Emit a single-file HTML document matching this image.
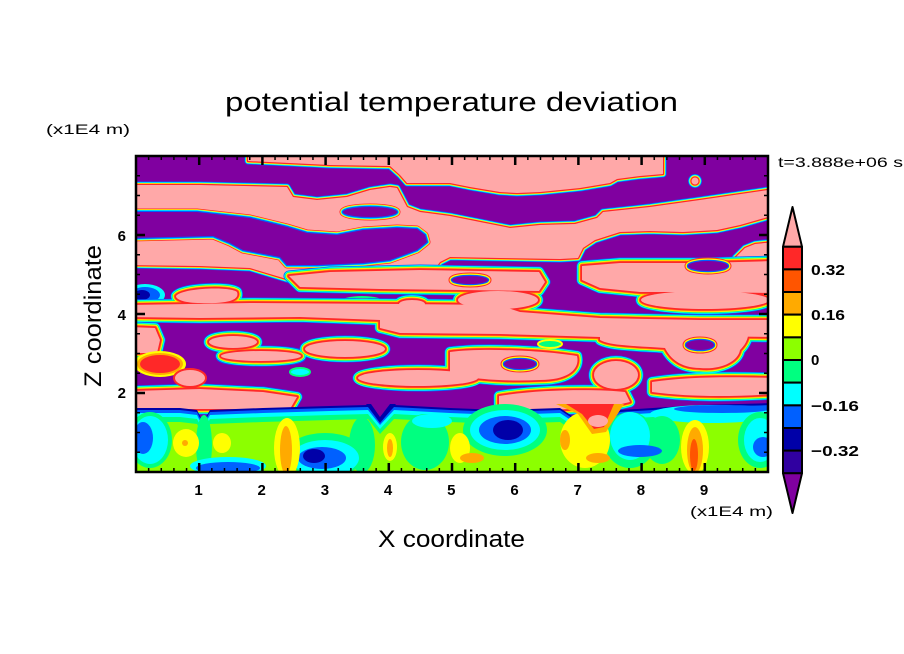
<!DOCTYPE html>
<html><head><meta charset="utf-8"><style>
html,body{margin:0;padding:0;background:#fff;}
body{width:904px;height:654px;overflow:hidden;}
svg{display:block;}
</style></head><body>
<svg xmlns="http://www.w3.org/2000/svg" width="904" height="654" viewBox="0 0 904 654" font-family="'Liberation Sans', sans-serif">
<defs>
<clipPath id="cp"><rect x="136" y="156" width="632" height="316"/></clipPath>
<g id="tp">
<path d="M248,150 L663,150 L663,174 L640,176 L617,179 L610,183 L580,188 L540,192 L517,193 L500,192 L470,187 L450,183 L407,183 L400,175 L390,166 L330,165 L248,161 Z"/>
<path d="M130,185 L200,185 L287,187 L293,197 L317,200 L347,197 L370,190 L390,187 L397,188 L407,207 L420,212 L450,216 L480,222 L510,228 L540,225 L575,224 L597,218 L603,212 L650,207 L700,200 L775,189 L775,215 L740,225 L717,230 L683,232 L650,231 L620,232 L595,240 L583,248 L578,258 L560,259 L500,258 L450,257 L440,262 L430,275 L400,283 L330,283 L290,280 L250,268 L200,266 L130,265 Z"/>
<path d="M735,258 L745,248 L755,244 L775,242 L775,262 L740,262 Z"/>
<circle cx="695" cy="181" r="3.5"/>
</g>
<g id="tpu">
<path d="M130,212 L197,212 L250,218 L287,227 L307,233 L337,235 L363,230 L397,228 L417,229 L425,235 L427,242 L417,250 L390,260 L363,263 L317,265 L287,265 L280,257 L243,250 L230,243 L213,236 L130,238 Z"/>
<ellipse cx="370" cy="212" rx="27" ry="5"/>
</g>
<g id="mp">
<path d="M289,276 L330,272 L420,270 L480,271 L539,272 L545,282 L539,291 L460,290 L380,289 L300,287 Z"/>
<path d="M582,266 L620,263 L700,263 L775,261 L775,293 L700,292 L640,292 L600,288 L582,280 Z"/>
<path d="M176,296 C182,288 230,286 237,292 C240,300 228,304 200,303 C186,303 176,300 176,296 Z"/>
<ellipse cx="412" cy="304" rx="13" ry="4"/>
<ellipse cx="498" cy="300" rx="40" ry="9"/>
<ellipse cx="705" cy="300" rx="64" ry="9"/>
<path d="M130,305 L250,303 L400,304 L499,305 L520,312 L600,318 L700,320 L775,320 L775,337 L700,336 L600,337 L500,334 L400,333 L380,328 L380,320 L300,317 L200,318 L130,317 Z"/>
<path d="M130,327 L155,328 L160,340 L157,353 L130,353 Z"/>
<ellipse cx="233" cy="342" rx="24" ry="6"/>
<ellipse cx="345" cy="349" rx="40" ry="8"/>
<ellipse cx="261" cy="356" rx="40" ry="5"/>
<path d="M450,352 C480,348 540,350 577,356 C580,368 570,380 540,380 C500,382 460,378 450,372 Z"/>
<ellipse cx="616" cy="375" rx="22" ry="14"/>
<path d="M600,328 C640,322 720,322 748,326 C750,338 745,345 740,350 C738,362 720,370 700,368 C680,368 670,358 665,348 C640,346 610,346 600,340 Z"/>
<path d="M652,382 C690,376 740,377 775,378 L775,394 C730,397 690,397 652,392 Z"/>
<ellipse cx="418" cy="378" rx="60" ry="8"/>
<path d="M130,391 L200,389 L263,392 L297,397 L290,409 L130,409 Z"/>
<path d="M499,396 C540,389 600,389 625,392 L630,402 C600,410 560,410 499,409 Z"/>
</g>
<g id="mpu">
<ellipse cx="708" cy="266" rx="20" ry="5"/>
<ellipse cx="520" cy="364" rx="16" ry="5"/>
<ellipse cx="470" cy="280" rx="18" ry="4"/>
<ellipse cx="700" cy="345" rx="14" ry="5"/>
</g>
<path id="bt" d="M130,408 L180,408 L197,410 L203,422 L210,410 L263,408 L330,406 L368,405 L380,420 L394,405 L450,408 L500,410 L560,408 L575,418 L590,428 L605,418 L620,410 L700,405 L775,403 L775,490 L130,490 Z"/>
<pattern id="px" patternUnits="userSpaceOnUse" x="135.25" y="0" width="12.64" height="20"><rect x="0" y="0" width="1.5" height="20" fill="#000"/></pattern>
<pattern id="py" patternUnits="userSpaceOnUse" x="0" y="155.25" width="20" height="19.75"><rect x="0" y="0" width="20" height="1.5" fill="#000"/></pattern>
</defs>

<g clip-path="url(#cp)">
<rect x="136" y="156" width="632" height="316" fill="#8000a0"/>
<use href="#tp" fill="none" stroke="#0060ff" stroke-width="7" stroke-linejoin="round"/>
<use href="#tp" fill="none" stroke="#00ffff" stroke-width="5.5" stroke-linejoin="round"/>
<use href="#tp" fill="none" stroke="#ffff00" stroke-width="4" stroke-linejoin="round"/>
<use href="#tp" fill="none" stroke="#ff2828" stroke-width="2.5" stroke-linejoin="round"/>
<use href="#tp" fill="#ffa8a8"/>
<use href="#tpu" fill="none" stroke="#ff2828" stroke-width="7" stroke-linejoin="round"/>
<use href="#tpu" fill="none" stroke="#ffff00" stroke-width="5.5" stroke-linejoin="round"/>
<use href="#tpu" fill="none" stroke="#00ffff" stroke-width="4" stroke-linejoin="round"/>
<use href="#tpu" fill="none" stroke="#0060ff" stroke-width="2.5" stroke-linejoin="round"/>
<use href="#tpu" fill="#8000a0"/>

<ellipse cx="145" cy="295" rx="20" ry="11" fill="#00ffff"/>
<ellipse cx="145" cy="295" rx="15" ry="8" fill="#0060ff"/>
<ellipse cx="142" cy="295" rx="8" ry="5" fill="#0000a8"/>
<ellipse cx="362" cy="302" rx="22" ry="6" fill="#00ff80"/>
<ellipse cx="362" cy="302" rx="15" ry="4" fill="#ffff00"/>

<use href="#mp" fill="none" stroke="#0060ff" stroke-width="11" stroke-linejoin="round"/>
<use href="#mp" fill="none" stroke="#00ffff" stroke-width="9.5" stroke-linejoin="round"/>
<use href="#mp" fill="none" stroke="#00ff80" stroke-width="8" stroke-linejoin="round"/>
<use href="#mp" fill="none" stroke="#ffff00" stroke-width="6.5" stroke-linejoin="round"/>
<use href="#mp" fill="none" stroke="#ffaa00" stroke-width="5" stroke-linejoin="round"/>
<use href="#mp" fill="none" stroke="#ff2828" stroke-width="3.5" stroke-linejoin="round"/>
<use href="#mp" fill="#ffa8a8"/>
<use href="#mpu" fill="none" stroke="#ff2828" stroke-width="7"/>
<use href="#mpu" fill="none" stroke="#ffff00" stroke-width="5"/>
<use href="#mpu" fill="none" stroke="#0060ff" stroke-width="2.5"/>
<use href="#mpu" fill="#8000a0"/>

<ellipse cx="160" cy="364" rx="26" ry="13" fill="#ffff00"/>
<ellipse cx="160" cy="364" rx="23" ry="11" fill="#ffaa00"/>
<ellipse cx="160" cy="364" rx="20" ry="9" fill="#ff2828"/>
<ellipse cx="190" cy="378" rx="16" ry="9" fill="#ffa8a8" stroke="#ff2828" stroke-width="2"/>
<ellipse cx="550" cy="344" rx="12" ry="4" fill="#00ff80" stroke="#ffff00" stroke-width="2"/>
<ellipse cx="300" cy="372" rx="10" ry="4" fill="#00ffff" stroke="#00ff80" stroke-width="2"/>

<use href="#bt" fill="#0000a8"/>
<use href="#bt" fill="#0060ff" transform="translate(0,2)"/>
<use href="#bt" fill="#00ffff" transform="translate(0,5)"/>
<use href="#bt" fill="#00ff80" transform="translate(0,9)"/>
<use href="#bt" fill="#8cff00" transform="translate(0,14)"/>
<ellipse cx="712" cy="414" rx="62" ry="9" fill="#00ffff"/>
<ellipse cx="722" cy="409" rx="48" ry="4" fill="#0060ff"/>

<g fill="#00ff80">
<ellipse cx="204" cy="445" rx="8" ry="30"/>
<ellipse cx="362" cy="445" rx="13" ry="28"/>
<ellipse cx="425" cy="442" rx="24" ry="28"/>
<ellipse cx="662" cy="440" rx="18" ry="24"/>
<ellipse cx="150" cy="440" rx="22" ry="28"/>
<ellipse cx="325" cy="455" rx="40" ry="22"/>
<ellipse cx="505" cy="430" rx="42" ry="26"/>
<ellipse cx="760" cy="440" rx="22" ry="28"/>
<ellipse cx="630" cy="440" rx="26" ry="28"/>
</g>
<g fill="#00ffff">
<ellipse cx="150" cy="440" rx="18" ry="24"/>
<ellipse cx="228" cy="466" rx="38" ry="9"/>
<ellipse cx="325" cy="458" rx="34" ry="18"/>
<ellipse cx="432" cy="421" rx="20" ry="7"/>
<ellipse cx="505" cy="430" rx="35" ry="20"/>
<ellipse cx="630" cy="436" rx="20" ry="24"/>
<ellipse cx="760" cy="440" rx="16" ry="22"/>
</g>
<g fill="#0060ff">
<ellipse cx="143" cy="438" rx="10" ry="16"/>
<ellipse cx="228" cy="468" rx="32" ry="6"/>
<ellipse cx="322" cy="458" rx="24" ry="11"/>
<ellipse cx="505" cy="430" rx="26" ry="14"/>
<ellipse cx="640" cy="451" rx="22" ry="6"/>
<ellipse cx="763" cy="447" rx="10" ry="10"/>
</g>
<g fill="#0000a8">
<ellipse cx="314" cy="456" rx="11" ry="7"/>
<ellipse cx="508" cy="430" rx="15" ry="10"/>
</g>
<g fill="#ffff00">
<ellipse cx="186" cy="443" rx="13" ry="14"/>
<ellipse cx="222" cy="443" rx="9" ry="10"/>
<ellipse cx="287" cy="448" rx="13" ry="30"/>
<ellipse cx="390" cy="447" rx="7" ry="14"/>
<ellipse cx="460" cy="448" rx="10" ry="15"/>
<ellipse cx="585" cy="440" rx="25" ry="28"/>
<ellipse cx="695" cy="447" rx="14" ry="27"/>
</g>
<g fill="#ffaa00">
<circle cx="185" cy="443" r="3"/>
<ellipse cx="286" cy="450" rx="6" ry="24"/>
<ellipse cx="390" cy="448" rx="3" ry="9"/>
<ellipse cx="472" cy="458" rx="12" ry="5"/>
<ellipse cx="565" cy="440" rx="5" ry="10"/>
<ellipse cx="598" cy="458" rx="12" ry="5"/>
<ellipse cx="695" cy="450" rx="8" ry="23"/>
</g>
<ellipse cx="694" cy="455" rx="4" ry="16" fill="#ff5500"/>

<path d="M556,404 L578,414 L592,434 L606,432 L624,404 Z" fill="#ffaa00"/>
<path d="M566,404 L582,414 L594,429 L604,427 L614,404 Z" fill="#ff2828"/>
<ellipse cx="598" cy="421" rx="10" ry="6" fill="#ffa8a8"/>
<path d="M366,404 L380,423 L396,404 Z" fill="#0000a8"/>
<path d="M371,404 L380,417 L390,404 Z" fill="#8000a0"/>
</g>

<!-- frame -->
<rect x="136" y="156" width="632" height="316" fill="none" stroke="#000" stroke-width="2.5"/>
<!-- minor ticks -->
<rect x="136" y="468" width="632" height="4" fill="url(#px)"/>
<rect x="136" y="156" width="632" height="4" fill="url(#px)"/>
<rect x="136" y="156" width="4" height="316" fill="url(#py)"/>
<rect x="764" y="156" width="4" height="316" fill="url(#py)"/>
<!-- major ticks -->
<g stroke="#000" stroke-width="2.5">
<path d="M199.2,472 v-9 M262.4,472 v-9 M325.6,472 v-9 M388.8,472 v-9 M452,472 v-9 M515.2,472 v-9 M578.4,472 v-9 M641.6,472 v-9 M704.8,472 v-9"/>
<path d="M199.2,156 v9 M262.4,156 v9 M325.6,156 v9 M388.8,156 v9 M452,156 v9 M515.2,156 v9 M578.4,156 v9 M641.6,156 v9 M704.8,156 v9"/>
<path d="M136,393 h9 M136,314 h9 M136,235 h9 M768,393 h-9 M768,314 h-9 M768,235 h-9"/>
</g>

<!-- labels -->
<text x="225" y="111" font-size="27" textLength="453" lengthAdjust="spacingAndGlyphs" fill="#000">potential temperature deviation</text>
<text x="46" y="134" font-size="14" textLength="84" lengthAdjust="spacingAndGlyphs" fill="#000">(x1E4 m)</text>
<text x="690" y="516" font-size="14" textLength="83" lengthAdjust="spacingAndGlyphs" fill="#000">(x1E4 m)</text>
<text x="778" y="167" font-size="14" textLength="125" lengthAdjust="spacingAndGlyphs" fill="#000">t=3.888e+06 s</text>
<text x="378" y="547" font-size="24" textLength="147" lengthAdjust="spacingAndGlyphs" fill="#000">X coordinate</text>
<text transform="translate(101,387) rotate(-90)" font-size="24" textLength="142" lengthAdjust="spacingAndGlyphs" fill="#000">Z coordinate</text>

<g font-size="15" font-weight="bold" text-anchor="middle" fill="#000">
<text x="198.5" y="495">1</text>
<text x="261.7" y="495">2</text>
<text x="324.9" y="495">3</text>
<text x="388.1" y="495">4</text>
<text x="451.3" y="495">5</text>
<text x="514.5" y="495">6</text>
<text x="577.7" y="495">7</text>
<text x="640.9" y="495">8</text>
<text x="704.1" y="495">9</text>
</g>
<g font-size="15" font-weight="bold" text-anchor="end" fill="#000">
<text x="126" y="398">2</text>
<text x="126" y="320">4</text>
<text x="126" y="241">6</text>
</g>

<!-- colorbar -->
<g stroke="#000" stroke-width="2" stroke-linejoin="round">
<polygon points="792.5,207 802,246.7 783,246.7" fill="#ffa8a8"/>
<rect x="783" y="246.7" width="19" height="22.66" fill="#ff2828"/>
<rect x="783" y="269.36" width="19" height="22.66" fill="#ff5500"/>
<rect x="783" y="292.02" width="19" height="22.66" fill="#ffaa00"/>
<rect x="783" y="314.68" width="19" height="22.66" fill="#ffff00"/>
<rect x="783" y="337.34" width="19" height="22.66" fill="#8cff00"/>
<rect x="783" y="360" width="19" height="22.66" fill="#00ff80"/>
<rect x="783" y="382.66" width="19" height="22.66" fill="#00ffff"/>
<rect x="783" y="405.32" width="19" height="22.66" fill="#0060ff"/>
<rect x="783" y="427.98" width="19" height="22.66" fill="#0000a8"/>
<rect x="783" y="450.64" width="19" height="22.66" fill="#3000a0"/>
<polygon points="783,473.3 802,473.3 792.5,513" fill="#8000a0"/>
</g>
<g font-size="15" font-weight="bold" fill="#000">
<text x="811" y="275" textLength="34" lengthAdjust="spacingAndGlyphs">0.32</text>
<text x="811" y="320" textLength="34" lengthAdjust="spacingAndGlyphs">0.16</text>
<text x="811" y="365">0</text>
<text x="811" y="411" textLength="48" lengthAdjust="spacingAndGlyphs">−0.16</text>
<text x="811" y="456" textLength="48" lengthAdjust="spacingAndGlyphs">−0.32</text>
</g>
</svg>
</body></html>
